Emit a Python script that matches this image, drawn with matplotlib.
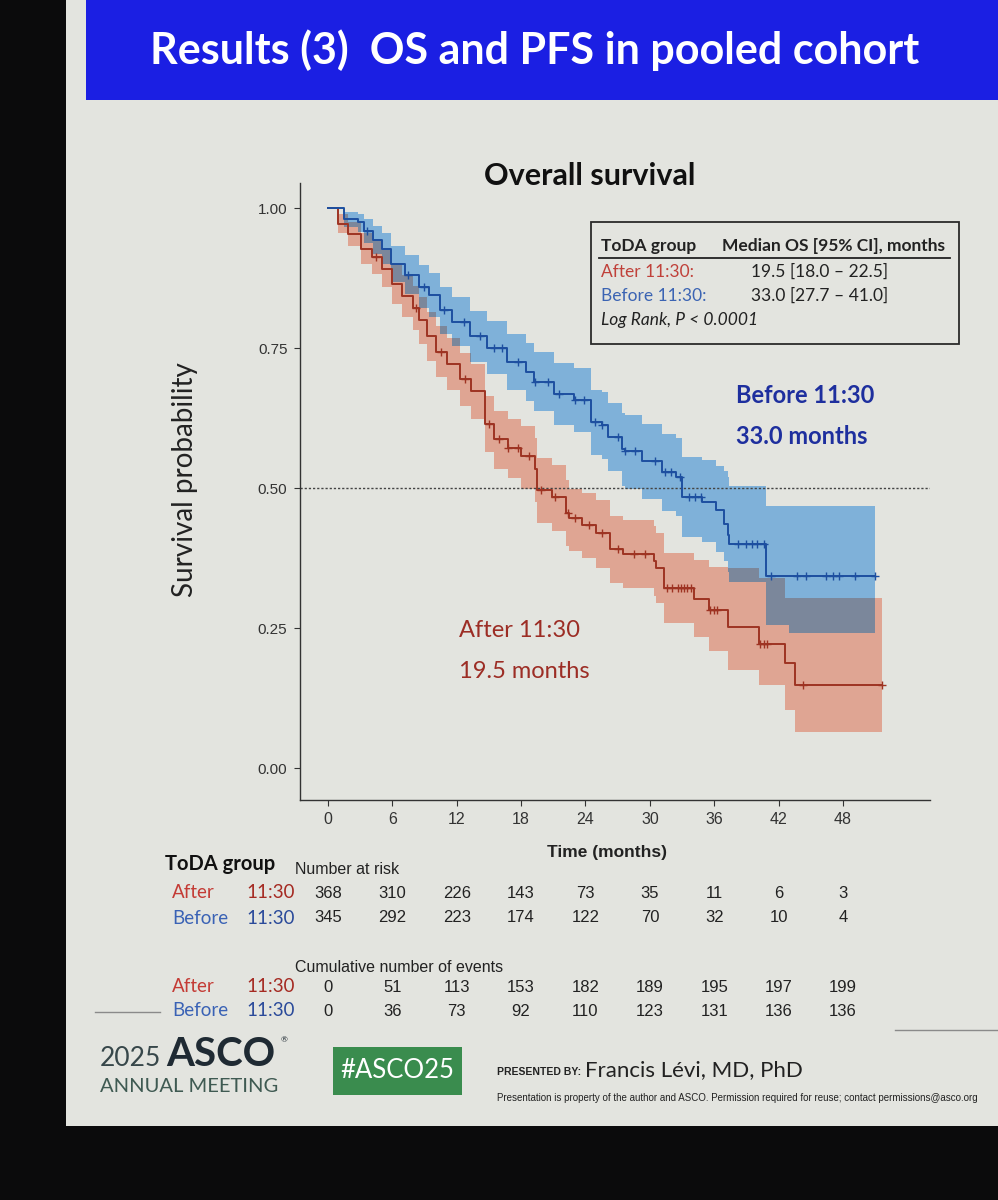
import matplotlib
matplotlib.use("Agg")
import matplotlib.pyplot as plt
from matplotlib.patches import Rectangle
from matplotlib.lines import Line2D
from matplotlib.transforms import blended_transform_factory
import numpy as np

# ---------------- data ----------------
title_text = "Results (3)  OS and PFS in pooled cohort"
panel_title = "Overall survival"

time_ticks = [0, 6, 12, 18, 24, 30, 36, 42, 48]
y_ticks = [0.00, 0.25, 0.50, 0.75, 1.00]
y_tick_labels = ["0.00", "0.25", "0.50", "0.75", "1.00"]

after_risk = [368, 310, 226, 143, 73, 35, 11, 6, 3]
before_risk = [345, 292, 223, 174, 122, 70, 32, 10, 4]
after_events = [0, 51, 113, 153, 182, 189, 195, 197, 199]
before_events = [0, 36, 73, 92, 110, 123, 131, 136, 136]

# Kaplan-Meier step knots: "Before 11:30"
before_t = [0, 1.5, 2.8, 3.4, 4.2, 5.0, 5.9, 7.2, 8.5, 9.4, 10.4, 11.6, 13.2, 14.8, 16.7,
            18.5, 19.2, 21.1, 22.9, 24.5, 25.5, 26.1, 27.4, 27.7, 29.3, 31.1, 32.4, 33.0,
            34.9, 36.2, 36.9, 37.3, 37.4, 40.8, 43.0]
before_s = [1.000, 0.980, 0.975, 0.959, 0.944, 0.928, 0.901, 0.881, 0.860, 0.845, 0.818,
            0.797, 0.771, 0.751, 0.726, 0.707, 0.690, 0.668, 0.658, 0.618, 0.612, 0.591,
            0.570, 0.566, 0.549, 0.529, 0.520, 0.484, 0.476, 0.461, 0.436, 0.417, 0.400,
            0.343, 0.343]
before_lo = [1.000, 0.966, 0.958, 0.938, 0.919, 0.900, 0.869, 0.846, 0.822, 0.805, 0.776,
             0.753, 0.725, 0.703, 0.676, 0.655, 0.637, 0.613, 0.601, 0.560, 0.552, 0.530,
             0.503, 0.498, 0.481, 0.460, 0.450, 0.413, 0.404, 0.386, 0.370, 0.350, 0.333,
             0.255, 0.241]
before_hi = [1.000, 0.994, 0.990, 0.980, 0.968, 0.956, 0.933, 0.916, 0.898, 0.885, 0.860,
             0.841, 0.817, 0.799, 0.776, 0.759, 0.743, 0.723, 0.715, 0.676, 0.672, 0.652,
             0.634, 0.630, 0.615, 0.597, 0.590, 0.556, 0.551, 0.540, 0.531, 0.520, 0.503,
             0.468, 0.468]
before_end = 51.0
before_cens = [3.6, 7.5, 9.0, 10.8, 12.7, 14.2, 15.5, 16.2, 17.7, 19.3, 20.5, 21.5, 23.0,
               23.9, 24.9, 25.5, 27.0, 27.7, 28.6, 30.5, 31.4, 32.0, 32.8, 33.6, 34.2, 34.8,
               38.2, 39.0, 39.5, 40.0, 40.6, 41.25, 43.7, 44.5, 46.4, 47.1, 47.6, 49.1, 51.0]

# Kaplan-Meier step knots: "After 11:30"
after_t = [0, 0.9, 1.9, 3.1, 4.1, 5.0, 6.0, 6.9, 7.9, 8.5, 9.2, 10.1, 11.1, 12.3, 13.3,
           14.6, 15.5, 16.8, 18.0, 19.3, 19.5, 20.9, 22.2, 22.5, 23.7, 25.0, 26.3, 27.5,
           30.4, 30.6, 31.3, 34.1, 35.5, 37.3, 40.2, 42.6, 43.5]
after_s = [1.000, 0.972, 0.954, 0.928, 0.913, 0.892, 0.865, 0.843, 0.822, 0.800, 0.771,
           0.744, 0.722, 0.695, 0.673, 0.615, 0.587, 0.572, 0.558, 0.535, 0.497, 0.484,
           0.456, 0.447, 0.435, 0.419, 0.391, 0.382, 0.370, 0.357, 0.321, 0.302, 0.283,
           0.252, 0.222, 0.188, 0.149]
after_lo = [1.000, 0.955, 0.932, 0.901, 0.883, 0.859, 0.829, 0.805, 0.782, 0.758, 0.727,
            0.698, 0.675, 0.647, 0.624, 0.564, 0.535, 0.519, 0.498, 0.476, 0.437, 0.424,
            0.396, 0.387, 0.375, 0.358, 0.330, 0.321, 0.307, 0.295, 0.259, 0.235, 0.210,
            0.176, 0.148, 0.103, 0.065]
after_hi = [1.000, 0.989, 0.976, 0.955, 0.943, 0.925, 0.900, 0.880, 0.861, 0.841, 0.814,
            0.789, 0.768, 0.742, 0.721, 0.665, 0.638, 0.624, 0.611, 0.590, 0.553, 0.541,
            0.514, 0.499, 0.492, 0.478, 0.451, 0.443, 0.432, 0.420, 0.385, 0.372, 0.360,
            0.357, 0.340, 0.304, 0.303]
after_end = 51.6
after_cens = [4.5, 8.2, 10.5, 12.8, 15.0, 15.9, 16.8, 17.7, 18.7, 19.9, 21.2, 22.4, 23.0,
              24.3, 25.5, 27.0, 28.5, 29.5, 31.6, 32.1, 32.6, 32.9, 33.2, 33.5, 33.8, 35.6,
              36.0, 36.3, 40.3, 40.6, 40.9, 44.3, 51.6]

median_line = 0.5

# ---------------- styling ----------------
LT = ["Lato", "DejaVu Sans"]
LS = ["Liberation Sans", "DejaVu Sans"]
plt.rcParams["font.family"] = LT

C_BG = "#0b0b0c"
C_SLIDE = "#e3e4df"
C_BAR = "#1b1fe3"
C_BLUE_LINE = "#1d4fa0"
C_BLUE_BAND = "#7fb1d9"
C_RED_LINE = "#9e3322"
C_RED_BAND = "#dfa593"
C_OVERLAP = "#7b879b"
C_TXT = "#222222"

W, H = 998, 1200
fig = plt.figure(figsize=(W / 100, H / 100), dpi=100)
fig.patch.set_facecolor(C_BG)


def fx(x):
    return x / W


def fy(y):
    return 1 - y / H


def frect(x0, y0, x1, y1, **kw):
    r = Rectangle((fx(x0), fy(y1)), fx(x1) - fx(x0), fy(y0) - fy(y1),
                  transform=fig.transFigure, **kw)
    fig.add_artist(r)
    return r


# slide and title bar
frect(66, 0, 998, 1126, facecolor=C_SLIDE, edgecolor="none", zorder=-2)
frect(86, 0, 998, 100, facecolor=C_BAR, edgecolor="none", zorder=-1)
title = fig.text(fx(150), fy(50), title_text, color="white", fontsize=31,
                 fontweight="bold", family=LT, ha="left", va="center")

# ---------------- KM panel ----------------
ax = fig.add_axes([fx(300), fy(800), fx(930) - fx(300), fy(183) - fy(800)])
ax.patch.set_visible(False)
ax.set_xlim(-2.6, 56.1)
ax.set_ylim(-0.057, 1.045)
for s in ["top", "right"]:
    ax.spines[s].set_visible(False)
for s in ["left", "bottom"]:
    ax.spines[s].set_color("#333333")
    ax.spines[s].set_linewidth(1.0)
ax.set_xticks(time_ticks)
ax.set_xticklabels([str(t) for t in time_ticks], family=LS, fontsize=11.5, color="#333333")
ax.set_yticks(y_ticks)
ax.set_yticklabels(y_tick_labels, family=LS, fontsize=11, color="#333333")
ax.tick_params(length=4, width=0.8, colors="#333333", pad=5)


def ext(t, v, end):
    return np.array(list(t) + [end]), np.array(list(v) + [v[-1]])


def stepval(t, v, grid):
    idx = np.searchsorted(np.asarray(t), grid, side="right") - 1
    return np.asarray(v)[np.clip(idx, 0, len(v) - 1)]


bt, bs = ext(before_t, before_s, before_end)
_, blo = ext(before_t, before_lo, before_end)
_, bhi = ext(before_t, before_hi, before_end)
at, as_ = ext(after_t, after_s, after_end)
_, alo = ext(after_t, after_lo, after_end)
_, ahi = ext(after_t, after_hi, after_end)

ax.fill_between(at, alo, ahi, step="post", color=C_RED_BAND, lw=0, zorder=1)
ax.fill_between(bt, blo, bhi, step="post", color=C_BLUE_BAND, lw=0, zorder=1.1)

grid = np.union1d(bt, at)
grid = grid[grid <= min(before_end, after_end)]
ov_lo = np.maximum(stepval(before_t, before_lo, grid), stepval(after_t, after_lo, grid))
ov_hi = np.minimum(stepval(before_t, before_hi, grid), stepval(after_t, after_hi, grid))
ov_hi = np.maximum(ov_hi, ov_lo)
ax.fill_between(grid, ov_lo, ov_hi, step="post", color=C_OVERLAP, lw=0, zorder=1.2)

ax.axhline(median_line, color="#444444", lw=1.0, ls=(0, (1.6, 1.4)), zorder=1.5)

ax.step(at, as_, where="post", color=C_RED_LINE, lw=1.4, zorder=3)
ax.step(bt, bs, where="post", color=C_BLUE_LINE, lw=1.4, zorder=3.1)
ax.plot(after_cens, stepval(after_t, after_s, np.array(after_cens)), ls="none",
        marker="+", ms=6, mew=1.0, color=C_RED_LINE, zorder=3.2)
ax.plot(before_cens, stepval(before_t, before_s, np.array(before_cens)), ls="none",
        marker="+", ms=6, mew=1.0, color=C_BLUE_LINE, zorder=3.3)

# curve annotations
ax.text(38.0, 0.665, "Before 11:30", color="#1e2f9e", fontsize=17, fontweight="bold",
        family=LT, ha="left", va="center")
ax.text(38.0, 0.593, "33.0 months", color="#1e2f9e", fontsize=17, fontweight="bold",
        family=LT, ha="left", va="center")
ax.text(12.2, 0.245, "After 11:30", color="#9c2d25", fontsize=17, family=LT,
        ha="left", va="center")
ax.text(12.2, 0.173, "19.5 months", color="#9c2d25", fontsize=17, family=LT,
        ha="left", va="center")

# titles / axis labels
fig.text(fx(590), fy(176), panel_title, fontsize=22, fontweight="bold", family=LT,
         color="#111111", ha="center", va="center")
fig.text(fx(185), fy(480), "Survival probability", fontsize=20, family=LT,
         color="#222222", rotation=90, ha="center", va="center")
fig.text(fx(607), fy(852), "Time (months)", fontsize=12.5, fontweight="bold", family=LS,
         color="#222222", ha="center", va="center")

# ---------------- median box ----------------
bx0, by0, bx1, by1 = 591, 222, 959, 344
frect(bx0, by0, bx1, by1, facecolor="none", edgecolor="#2a2a2a", lw=1.3, zorder=2)
fs_box = 12.5
fig.text(fx(601), fy(246), "ToDA group", fontsize=fs_box, fontweight="bold", family=LT,
         color=C_TXT, ha="left", va="center")
fig.text(fx(722), fy(246), "Median OS [95% CI], months", fontsize=fs_box,
         fontweight="bold", family=LT, color=C_TXT, ha="left", va="center")
fig.add_artist(Line2D([fx(599), fx(950)], [fy(258), fy(258)], transform=fig.transFigure,
                      color="#222222", lw=1.3))
fig.text(fx(601), fy(272), "After 11:30:", fontsize=fs_box, family=LT, color="#c0413a",
         ha="left", va="center")
fig.text(fx(751), fy(272), "19.5 [18.0 \u2013 22.5]", fontsize=fs_box, family=LT,
         color=C_TXT, ha="left", va="center")
fig.text(fx(601), fy(296), "Before 11:30:", fontsize=fs_box, family=LT, color="#3b64b3",
         ha="left", va="center")
fig.text(fx(751), fy(296), "33.0 [27.7 \u2013 41.0]", fontsize=fs_box, family=LT,
         color=C_TXT, ha="left", va="center")
fig.text(fx(601), fy(320), "Log Rank, P < 0.0001", fontsize=fs_box, style="italic",
         family=LT, color=C_TXT, ha="left", va="center")

# ---------------- risk / events tables ----------------
bt_tr = blended_transform_factory(ax.transData, fig.transFigure)

fig.text(fx(165), fy(864), "ToDA group", fontsize=14.5, fontweight="bold", family=LT,
         color="#111111", ha="left", va="center")
fig.text(fx(295), fy(869), "Number at risk", fontsize=11.5, family=LS, color=C_TXT,
         ha="left", va="center")
fig.text(fx(295), fy(967), "Cumulative number of events", fontsize=11.5, family=LS,
         color=C_TXT, ha="left", va="center")


def group_label(y, name, c1, c2):
    fig.text(fx(172), fy(y), name, fontsize=13.5, family=LT, color=c1, ha="left",
             va="center")
    fig.text(fx(246), fy(y), "11:30", fontsize=13.5, family=LT, color=c2, ha="left",
             va="center")


def num_row(y, vals):
    for t, v in zip(time_ticks, vals):
        ax.text(t, fy(y), str(v), transform=bt_tr, fontsize=12, family=LS, color=C_TXT,
                ha="center", va="center", clip_on=False)


group_label(893, "After", "#c43b35", "#a52a22")
group_label(918, "Before", "#3a62b5", "#2a4a9a")
num_row(893, after_risk)
num_row(918, before_risk)
group_label(987, "After", "#c43b35", "#a52a22")
group_label(1011, "Before", "#3a62b5", "#2a4a9a")
num_row(987, after_events)
num_row(1011, before_events)

fig.add_artist(Line2D([fx(95), fx(160)], [fy(1012), fy(1012)], transform=fig.transFigure,
                      color="#8a8a8a", lw=1.0))
fig.add_artist(Line2D([fx(895), fx(998)], [fy(1030), fy(1030)], transform=fig.transFigure,
                      color="#8a8a8a", lw=1.0))

# ---------------- footer ----------------
fig.text(fx(100), fy(1058), "2025", fontsize=19, family=LT, color="#37474a",
         ha="left", va="center")
fig.text(fx(166), fy(1055), "ASCO", fontsize=29, fontweight="bold", family=LT,
         color="#1f2a33", ha="left", va="center")
fig.text(fx(281), fy(1040), "\u00ae", fontsize=6, family=LT, color="#1f2a33",
         ha="left", va="center")
fig.text(fx(100), fy(1086), "ANNUAL MEETING", fontsize=14.5, family=LT, color="#3f5a52",
         ha="left", va="center")
frect(333, 1047, 462, 1095, facecolor="#3a8c4e", edgecolor="none", zorder=1)
fig.text(fx(397.5), fy(1071), "#ASCO25", fontsize=18.5, family=LT, color="white",
         ha="center", va="center", zorder=3)
fig.text(fx(497), fy(1072), "PRESENTED BY:", fontsize=7.5, fontweight="bold", family=LS,
         color=C_TXT, ha="left", va="center")
fig.text(fx(585), fy(1070), "Francis L\u00e9vi, MD, PhD", fontsize=16, family=LT,
         color=C_TXT, ha="left", va="center")
disc = fig.text(fx(497), fy(1098),
                "Presentation is property of the author and ASCO. Permission required for "
                "reuse; contact permissions@asco.org",
                fontsize=7, family=LS, color=C_TXT, ha="left", va="center")

# keep long lines inside the canvas
fig.canvas.draw()
r = fig.canvas.get_renderer()
for t_obj, right in [(title, 985), (disc, 990)]:
    bb = t_obj.get_window_extent(r)
    if bb.x1 > right:
        t_obj.set_fontsize(t_obj.get_fontsize() * (right - bb.x0) / (bb.x1 - bb.x0))

fig.savefig("out.png", dpi=100, facecolor=fig.get_facecolor())
